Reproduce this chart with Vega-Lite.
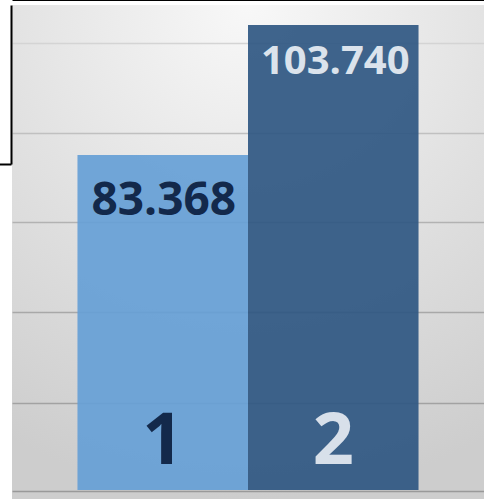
{
  "$schema": "https://vega.github.io/schema/vega-lite/v6.json",
  "width": 472,
  "height": 494,
  "autosize": {"type": "none"},
  "padding": {"left": 12, "top": 5, "right": 0, "bottom": 0},
  "background": "white",
  "data": {"values": [
    {"cat": "1", "v": 83.368, "label": "83.368"},
    {"cat": "2", "v": 103.74, "label": "103.740"}
  ]},
  "encoding": {
    "x": {"field": "cat", "type": "nominal", "sort": null,
      "scale": {"paddingInner": 0, "paddingOuter": 0.384},
      "axis": {"orient": "top", "labels": false, "ticks": false, "title": null, "grid": false,
        "domain": true, "domainColor": "black", "domainWidth": 1, "offset": 5}}
  },
  "layer": [
    {
      "mark": {"type": "bar", "opacity": 0.92},
      "encoding": {
        "y": {"field": "v", "type": "quantitative",
          "scale": {"domain": [29.46, 106.87], "zero": false, "nice": false},
          "axis": {"orient": "left", "title": null, "labels": false,
            "values": [30.72, 44.55, 58.81, 72.82, 86.86, 100.87, 81.96],
            "grid": true, "gridWidth": 1.5,
            "gridColor": {"condition": [
              {"test": "datum.value > 81.9 && datum.value < 82", "value": "transparent"},
              {"test": "datum.value > 100", "value": "#d4d4d4"},
              {"test": "datum.value > 86", "value": "#c0c0c0"},
              {"test": "datum.value > 72", "value": "#b2b2b2"},
              {"test": "datum.value > 58", "value": "#a8a8a8"},
              {"test": "datum.value > 44", "value": "#a2a2a2"}
            ], "value": "#999999"},
            "domain": true, "domainColor": "black", "domainWidth": 2, "offset": 1,
            "domainDash": [0, 335, 159, 1000],
            "ticks": true, "tickSize": 12, "tickWidth": 2,
            "tickColor": {"condition": {"test": "datum.value > 81.9 && datum.value < 82", "value": "black"}, "value": "transparent"}}},
        "y2": {"datum": 30.88},
        "color": {"field": "cat", "type": "nominal", "legend": null,
          "scale": {"domain": ["1", "2"], "range": ["#66a0d6", "#2f5782"]}}
      }
    },
    {
      "transform": [{"filter": "datum.cat == '1'"}],
      "mark": {"type": "text", "font": "Open Sans", "fontWeight": "bold", "fontSize": 46, "baseline": "alphabetic", "align": "center", "dy": 60, "dx": 1, "color": "#13294b"},
      "encoding": {
        "y": {"field": "v", "type": "quantitative"},
        "text": {"field": "label"}
      }
    },
    {
      "transform": [{"filter": "datum.cat == '2'"}],
      "mark": {"type": "text", "font": "Open Sans", "fontWeight": "bold", "fontSize": 40, "baseline": "alphabetic", "align": "center", "dy": 49, "dx": 2, "color": "#dbe3ec"},
      "encoding": {
        "y": {"field": "v", "type": "quantitative"},
        "text": {"field": "label"}
      }
    },
    {
      "mark": {"type": "text", "font": "Open Sans", "fontWeight": "bold", "fontSize": 72, "baseline": "alphabetic", "align": "center"},
      "encoding": {
        "y": {"datum": 34.95, "type": "quantitative"},
        "text": {"field": "cat"},
        "color": {"field": "cat", "type": "nominal", "legend": null,
          "scale": {"domain": ["1", "2"], "range": ["#13294b", "#d8e0ea"]}}
      }
    }
  ],
  "resolve": {"scale": {"color": "independent"}},
  "config": {
    "view": {"stroke": null,
      "fill": {"gradient": "radial", "x1": 0.5, "y1": 0, "r1": 0, "x2": 0.5, "y2": 0, "r2": 1,
        "stops": [{"offset": 0, "color": "#f8f8f8"}, {"offset": 0.5, "color": "#e2e2e2"}, {"offset": 1, "color": "#cdcdcd"}]}}
  }
}
